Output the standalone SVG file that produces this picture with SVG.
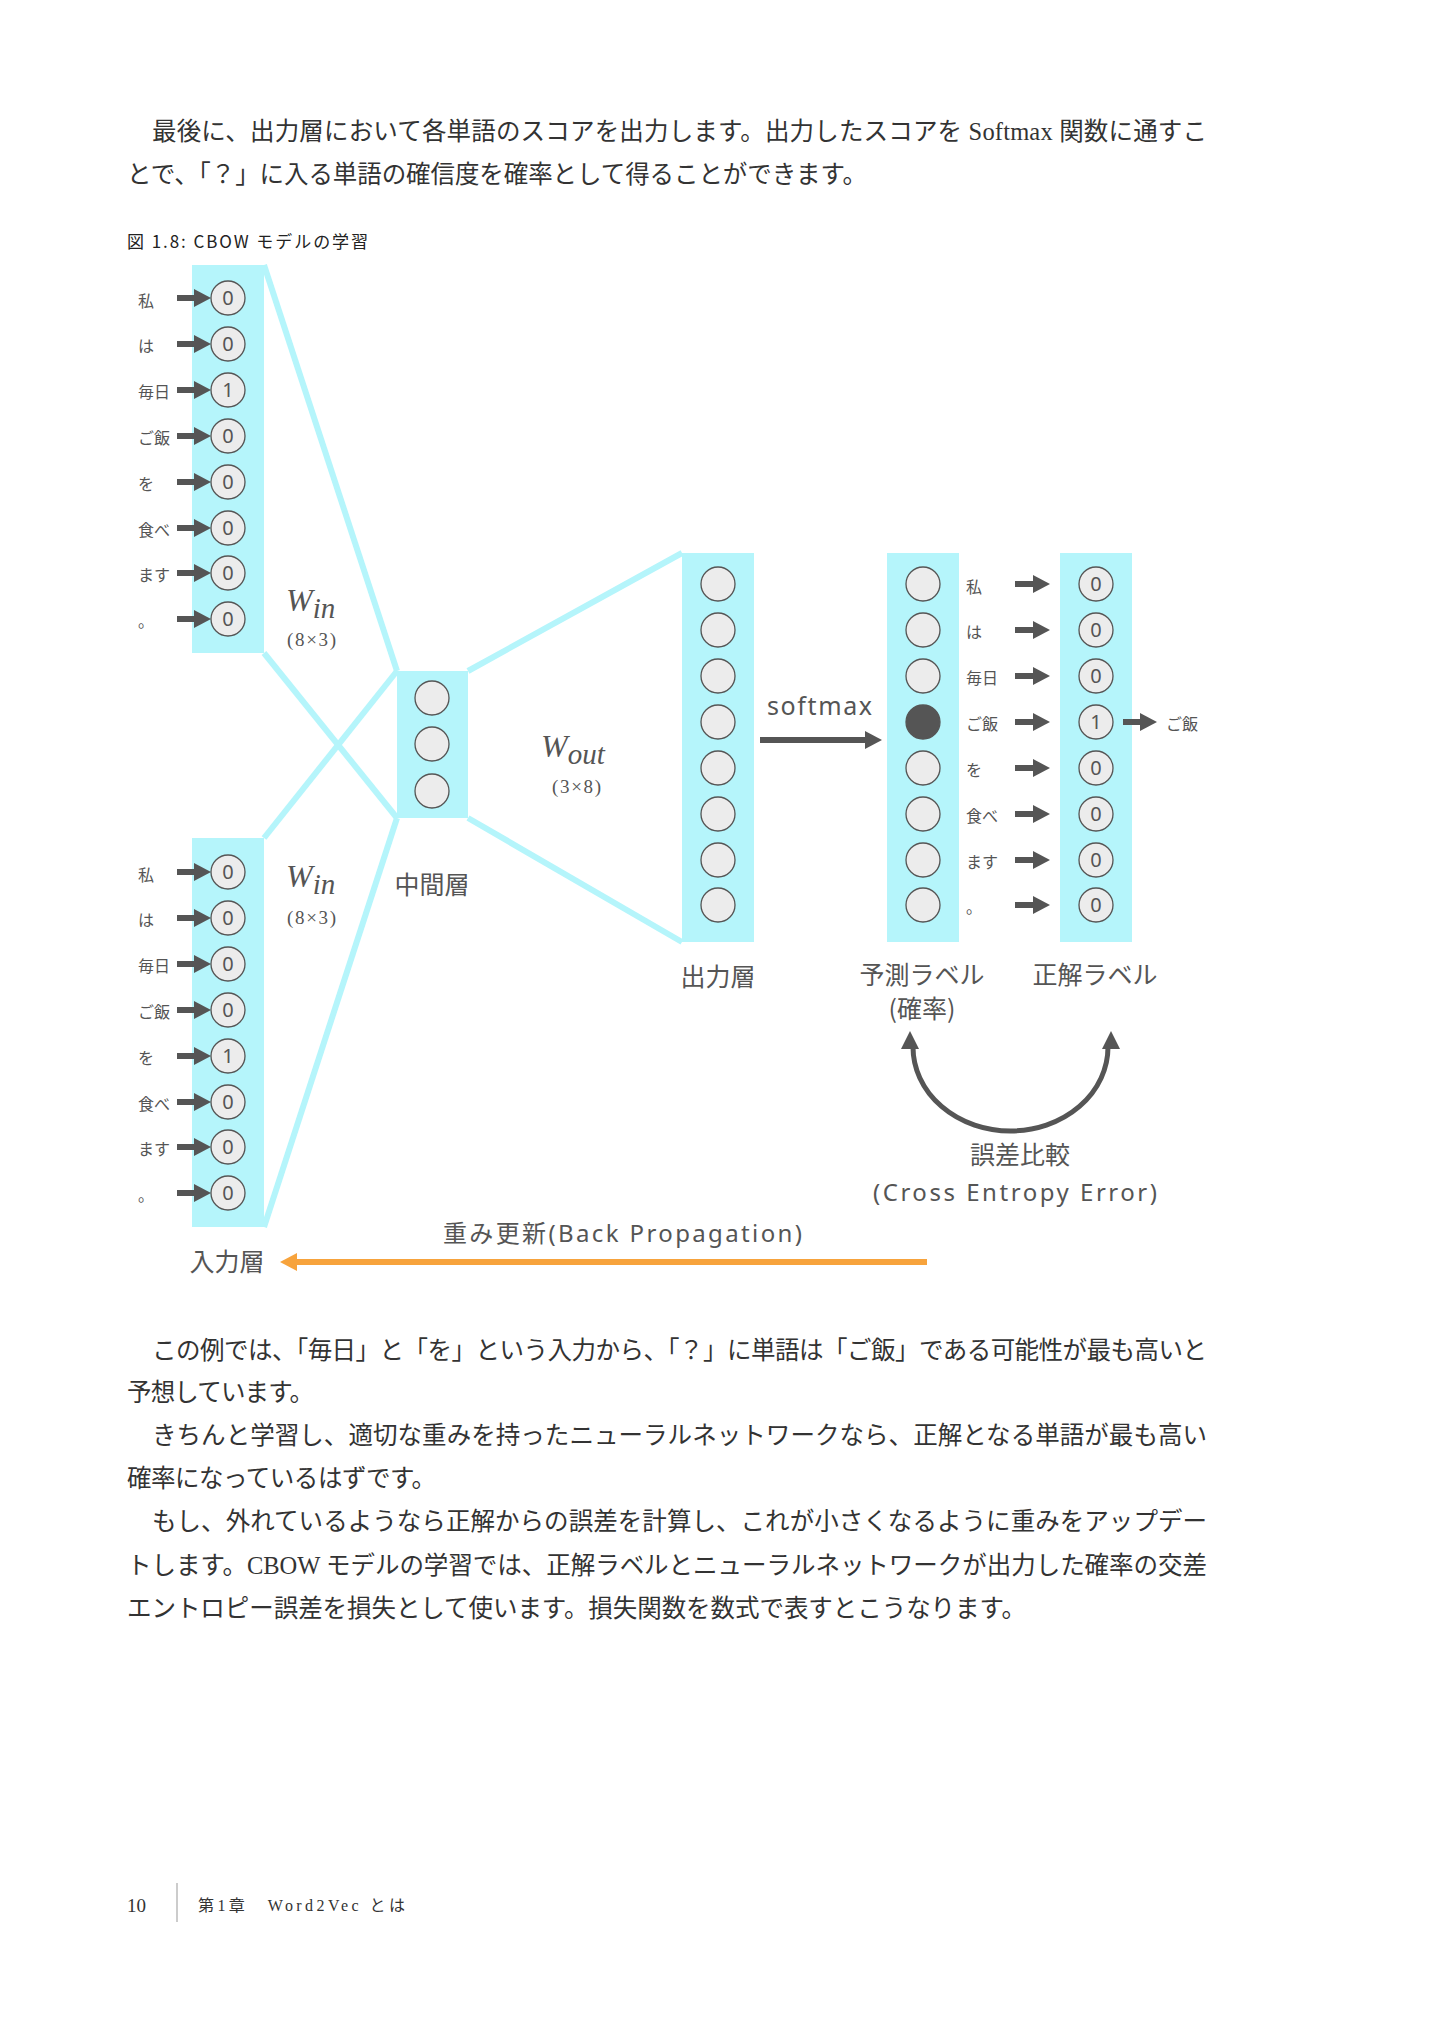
<svg xmlns="http://www.w3.org/2000/svg" width="1433" height="2024" viewBox="0 0 1433 2024">
<style>
.body{font-family:'Liberation Serif','Noto Sans CJK JP',serif;font-size:24.5px;fill:#333}
.cap{font-family:'Noto Sans CJK JP',sans-serif;font-size:17px;fill:#222}
.col{fill:#b5f5fb}
.link{stroke:#b5f5fb;stroke-width:6;fill:none}
.cir{fill:#ececec;stroke:#555;stroke-width:1.3}
.num{font-family:'Noto Sans','DejaVu Sans',sans-serif;font-size:20px;fill:#555;text-anchor:middle}
.lab{font-family:'Noto Sans CJK JP',sans-serif;font-size:16px;fill:#555}
.big{font-family:'Noto Sans CJK JP',sans-serif;font-size:25px;fill:#555}
.lat{font-family:'Noto Sans','Noto Sans CJK JP',sans-serif;font-size:24px;fill:#555}
.mid{text-anchor:middle}
.w{font-family:'Liberation Serif','DejaVu Serif',serif;font-style:italic;font-size:32px;fill:#555}
.dim{font-family:'Liberation Serif','DejaVu Serif',serif;font-size:19px;fill:#555}
.arr{stroke:#555;stroke-width:6;fill:none}
.foot{font-family:'Liberation Serif','Noto Sans CJK JP',serif;fill:#333}
</style>
<defs>
<marker id="ah" markerUnits="userSpaceOnUse" markerWidth="18" markerHeight="18" refX="0" refY="9" orient="auto"><path d="M0,0 L17,9 L0,18 z" fill="#555"/></marker>
<marker id="aho" markerUnits="userSpaceOnUse" markerWidth="18" markerHeight="18" refX="0" refY="9" orient="auto"><path d="M0,0 L17,9 L0,18 z" fill="#f7a33c"/></marker>
</defs>
<rect width="1433" height="2024" fill="#fff"/>

<g id="text-top">
<text class="body" x="152" y="140" textLength="1055">最後に、出力層において各単語のスコアを出力します。出力したスコアを Softmax 関数に通すこ</text>
<text class="body" x="127" y="183" textLength="740">とで、「？」に入る単語の確信度を確率として得ることができます。</text>
<text class="cap" x="127" y="248" textLength="241">図 1.8: CBOW モデルの学習</text>
</g>

<g id="connectors">
<line class="link" x1="264" y1="265" x2="397" y2="671"/>
<line class="link" x1="264" y1="653" x2="397" y2="818"/>
<line class="link" x1="264" y1="838" x2="397" y2="671"/>
<line class="link" x1="264" y1="1227" x2="397" y2="818"/>
<line class="link" x1="468" y1="671" x2="682" y2="553"/>
<line class="link" x1="468" y1="818" x2="682" y2="942"/>
<line class="arr" x1="760" y1="740" x2="865" y2="740" marker-end="url(#ah)"/>
<path d="M913 1047 A97.5 84 0 0 0 1108 1047" stroke="#555" stroke-width="5" fill="none"/>
<polygon points="910,1031 901,1049 919,1049" fill="#555"/>
<polygon points="1111,1031 1102,1049 1120,1049" fill="#555"/>
<line x1="927" y1="1262" x2="297" y2="1262" stroke="#f7a33c" stroke-width="6" marker-end="url(#aho)"/>
</g>

<g id="input-top">
<rect class="col" x="192" y="265" width="72" height="388"/>
<g class="arrows">
<line class="arr" x1="177" y1="298" x2="194" y2="298" marker-end="url(#ah)"/>
<line class="arr" x1="177" y1="344" x2="194" y2="344" marker-end="url(#ah)"/>
<line class="arr" x1="177" y1="390" x2="194" y2="390" marker-end="url(#ah)"/>
<line class="arr" x1="177" y1="436" x2="194" y2="436" marker-end="url(#ah)"/>
<line class="arr" x1="177" y1="482" x2="194" y2="482" marker-end="url(#ah)"/>
<line class="arr" x1="177" y1="528" x2="194" y2="528" marker-end="url(#ah)"/>
<line class="arr" x1="177" y1="573" x2="194" y2="573" marker-end="url(#ah)"/>
<line class="arr" x1="177" y1="619" x2="194" y2="619" marker-end="url(#ah)"/>
</g>
<circle class="cir" cx="228" cy="298" r="17"/><circle class="cir" cx="228" cy="344" r="17"/><circle class="cir" cx="228" cy="390" r="17"/><circle class="cir" cx="228" cy="436" r="17"/><circle class="cir" cx="228" cy="482" r="17"/><circle class="cir" cx="228" cy="528" r="17"/><circle class="cir" cx="228" cy="573" r="17"/><circle class="cir" cx="228" cy="619" r="17"/>
<text class="num" x="228" y="305">0</text><text class="num" x="228" y="351">0</text><text class="num" x="228" y="397">1</text><text class="num" x="228" y="443">0</text><text class="num" x="228" y="489">0</text><text class="num" x="228" y="535">0</text><text class="num" x="228" y="580">0</text><text class="num" x="228" y="626">0</text>
<text class="lab" x="138" y="307">私</text><text class="lab" x="138" y="352">は</text><text class="lab" x="138" y="398">毎日</text><text class="lab" x="138" y="444">ご飯</text><text class="lab" x="138" y="490">を</text><text class="lab" x="138" y="536">食べ</text><text class="lab" x="138" y="581">ます</text><text class="lab" x="138" y="627">。</text>
<text class="w" x="286" y="611">W<tspan font-size="29" dy="7">in</tspan></text>
<text class="dim" x="287" y="646" textLength="49">(8×3)</text>
</g>

<g id="input-bottom">
<rect class="col" x="192" y="838" width="72" height="389"/>
<g class="arrows">
<line class="arr" x1="177" y1="872" x2="194" y2="872" marker-end="url(#ah)"/>
<line class="arr" x1="177" y1="918" x2="194" y2="918" marker-end="url(#ah)"/>
<line class="arr" x1="177" y1="964" x2="194" y2="964" marker-end="url(#ah)"/>
<line class="arr" x1="177" y1="1010" x2="194" y2="1010" marker-end="url(#ah)"/>
<line class="arr" x1="177" y1="1056" x2="194" y2="1056" marker-end="url(#ah)"/>
<line class="arr" x1="177" y1="1102" x2="194" y2="1102" marker-end="url(#ah)"/>
<line class="arr" x1="177" y1="1147" x2="194" y2="1147" marker-end="url(#ah)"/>
<line class="arr" x1="177" y1="1193" x2="194" y2="1193" marker-end="url(#ah)"/>
</g>
<circle class="cir" cx="228" cy="872" r="17"/><circle class="cir" cx="228" cy="918" r="17"/><circle class="cir" cx="228" cy="964" r="17"/><circle class="cir" cx="228" cy="1010" r="17"/><circle class="cir" cx="228" cy="1056" r="17"/><circle class="cir" cx="228" cy="1102" r="17"/><circle class="cir" cx="228" cy="1147" r="17"/><circle class="cir" cx="228" cy="1193" r="17"/>
<text class="num" x="228" y="879">0</text><text class="num" x="228" y="925">0</text><text class="num" x="228" y="971">0</text><text class="num" x="228" y="1017">0</text><text class="num" x="228" y="1063">1</text><text class="num" x="228" y="1109">0</text><text class="num" x="228" y="1154">0</text><text class="num" x="228" y="1200">0</text>
<text class="lab" x="138" y="881">私</text><text class="lab" x="138" y="926">は</text><text class="lab" x="138" y="972">毎日</text><text class="lab" x="138" y="1018">ご飯</text><text class="lab" x="138" y="1064">を</text><text class="lab" x="138" y="1110">食べ</text><text class="lab" x="138" y="1155">ます</text><text class="lab" x="138" y="1201">。</text>
<text class="w" x="286" y="887">W<tspan font-size="29" dy="7">in</tspan></text>
<text class="dim" x="287" y="924" textLength="49">(8×3)</text>
<text class="big mid" x="227" y="1271">入力層</text>
</g>

<g id="hidden">
<rect class="col" x="397" y="671" width="71" height="147"/>
<circle class="cir" cx="432" cy="698" r="17"/><circle class="cir" cx="432" cy="744" r="17"/><circle class="cir" cx="432" cy="791" r="17"/>
<text class="big mid" x="432" y="894">中間層</text>
</g>

<g id="wout">
<text class="w" x="541" y="757">W<tspan font-size="29" dy="7">out</tspan></text>
<text class="dim" x="552" y="793" textLength="49">(3×8)</text>
</g>

<g id="output">
<rect class="col" x="682" y="553" width="72" height="389"/>
<circle class="cir" cx="718" cy="584" r="17"/><circle class="cir" cx="718" cy="630" r="17"/><circle class="cir" cx="718" cy="676" r="17"/><circle class="cir" cx="718" cy="722" r="17"/><circle class="cir" cx="718" cy="768" r="17"/><circle class="cir" cx="718" cy="814" r="17"/><circle class="cir" cx="718" cy="860" r="17"/><circle class="cir" cx="718" cy="905" r="17"/>
<text class="big mid" x="718" y="986">出力層</text>
</g>

<g id="softmax-label">
<text x="767" y="715" textLength="105" font-family="'Noto Sans','DejaVu Sans',sans-serif" font-size="25" fill="#555">softmax</text>
</g>

<g id="predicted">
<rect class="col" x="887" y="553" width="72" height="389"/>
<circle class="cir" cx="923" cy="584" r="17"/><circle class="cir" cx="923" cy="630" r="17"/><circle class="cir" cx="923" cy="676" r="17"/><circle cx="923" cy="722" r="17" fill="#555" stroke="#555" stroke-width="1.3"/><circle class="cir" cx="923" cy="768" r="17"/><circle class="cir" cx="923" cy="814" r="17"/><circle class="cir" cx="923" cy="860" r="17"/><circle class="cir" cx="923" cy="905" r="17"/>
<text class="big mid" x="922" y="984">予測ラベル</text>
<text class="big mid" x="922" y="1018" font-size="24">(確率)</text>
</g>

<g id="word-labels">
<text class="lab" x="966" y="593">私</text><text class="lab" x="966" y="638">は</text><text class="lab" x="966" y="684">毎日</text><text class="lab" x="966" y="730">ご飯</text><text class="lab" x="966" y="776">を</text><text class="lab" x="966" y="822">食べ</text><text class="lab" x="966" y="868">ます</text><text class="lab" x="966" y="913">。</text>
<line class="arr" x1="1015" y1="584" x2="1033" y2="584" marker-end="url(#ah)"/>
<line class="arr" x1="1015" y1="630" x2="1033" y2="630" marker-end="url(#ah)"/>
<line class="arr" x1="1015" y1="676" x2="1033" y2="676" marker-end="url(#ah)"/>
<line class="arr" x1="1015" y1="722" x2="1033" y2="722" marker-end="url(#ah)"/>
<line class="arr" x1="1015" y1="768" x2="1033" y2="768" marker-end="url(#ah)"/>
<line class="arr" x1="1015" y1="814" x2="1033" y2="814" marker-end="url(#ah)"/>
<line class="arr" x1="1015" y1="860" x2="1033" y2="860" marker-end="url(#ah)"/>
<line class="arr" x1="1015" y1="905" x2="1033" y2="905" marker-end="url(#ah)"/>
</g>

<g id="correct">
<rect class="col" x="1060" y="553" width="72" height="389"/>
<circle class="cir" cx="1096" cy="584" r="17"/><circle class="cir" cx="1096" cy="630" r="17"/><circle class="cir" cx="1096" cy="676" r="17"/><circle class="cir" cx="1096" cy="722" r="17"/><circle class="cir" cx="1096" cy="768" r="17"/><circle class="cir" cx="1096" cy="814" r="17"/><circle class="cir" cx="1096" cy="860" r="17"/><circle class="cir" cx="1096" cy="905" r="17"/>
<text class="num" x="1096" y="591">0</text><text class="num" x="1096" y="637">0</text><text class="num" x="1096" y="683">0</text><text class="num" x="1096" y="729">1</text><text class="num" x="1096" y="775">0</text><text class="num" x="1096" y="821">0</text><text class="num" x="1096" y="867">0</text><text class="num" x="1096" y="912">0</text>
<line class="arr" x1="1123" y1="722" x2="1140" y2="722" marker-end="url(#ah)"/>
<text class="lab" x="1166" y="730">ご飯</text>
<text class="big mid" x="1095" y="984">正解ラベル</text>
</g>

<g id="error-label">
<text class="big mid" x="1020" y="1164">誤差比較</text>
<text class="lat" x="873" y="1201" textLength="284">(Cross Entropy Error)</text>
</g>

<g id="backprop-label">
<text class="lat" x="443" y="1242" textLength="359">重み更新(Back Propagation)</text>
</g>

<g id="text-bottom">
<text class="body" x="152" y="1359" textLength="1055">この例では、「毎日」と「を」という入力から、「？」に単語は「ご飯」である可能性が最も高いと</text>
<text class="body" x="127" y="1401" textLength="187">予想しています。</text>
<text class="body" x="152" y="1444" textLength="1055">きちんと学習し、適切な重みを持ったニューラルネットワークなら、正解となる単語が最も高い</text>
<text class="body" x="127" y="1487" textLength="309">確率になっているはずです。</text>
<text class="body" x="152" y="1530" textLength="1055">もし、外れているようなら正解からの誤差を計算し、これが小さくなるように重みをアップデー</text>
<text class="body" x="127" y="1574" textLength="1080">トします。CBOW モデルの学習では、正解ラベルとニューラルネットワークが出力した確率の交差</text>
<text class="body" x="127" y="1617" textLength="899">エントロピー誤差を損失として使います。損失関数を数式で表すとこうなります。</text>
</g>

<g id="footer">
<text class="foot" x="127" y="1912" font-size="19">10</text>
<line x1="177" y1="1883" x2="177" y2="1922" stroke="#aaa" stroke-width="1.2"/>
<text class="foot" x="198" y="1911" font-size="16" textLength="207">第1章　Word2Vec とは</text>
</g>
</svg>
